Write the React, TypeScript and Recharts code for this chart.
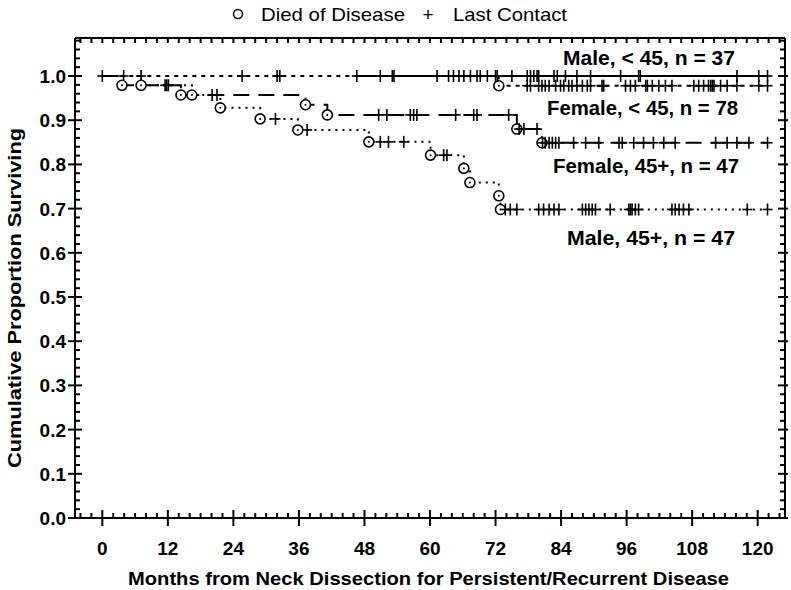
import React from 'react';
import { LineChart, Line, XAxis, YAxis } from 'recharts';

// ---------- data ----------
// each row: [month, cumulative proportion surviving, mark] ; mark: 'd' died, 'c' last contact, 'n' none
type Row = [number, number, string];

const maleUnder45: Row[] = [
  [46.6, 1, 'c'], [50.9, 1, 'c'], [53.1, 1, 'c'], [53.4, 1, 'c'], [61.3, 1, 'c'], [63.4, 1, 'c'],
  [64.3, 1, 'c'], [65.3, 1, 'c'], [66.2, 1, 'c'], [67.4, 1, 'c'], [68.6, 1, 'c'], [69.2, 1, 'c'],
  [70.5, 1, 'c'], [72.0, 1, 'c'], [72.3, 1, 'c'], [75.0, 1, 'c'], [77.8, 1, 'c'], [78.4, 1, 'c'],
  [79.0, 1, 'c'], [79.6, 1, 'c'], [79.9, 1, 'c'], [82.7, 1, 'c'], [83.3, 1, 'c'], [84.8, 1, 'c'],
  [86.9, 1, 'c'], [89.4, 1, 'c'], [94.9, 1, 'c'], [98.2, 1, 'c'], [98.5, 1, 'c'], [116.2, 1, 'c'],
  [120.2, 1, 'c'], [121.8, 1, 'c'],
];

const femaleUnder45: Row[] = [
  [0, 1, 'c'], [3.9, 1, 'c'], [7.1, 1, 'c'], [25.6, 1, 'c'], [32.0, 1, 'c'], [32.5, 1, 'c'],
  [72.6, 0.978, 'd'], [77.8, 0.978, 'c'], [78.4, 0.978, 'c'], [79.9, 0.978, 'c'], [80.5, 0.978, 'c'],
  [81.1, 0.978, 'c'], [81.8, 0.978, 'c'], [83.0, 0.978, 'c'], [83.9, 0.978, 'c'], [84.5, 0.978, 'c'],
  [85.4, 0.978, 'c'], [86.0, 0.978, 'c'], [86.9, 0.978, 'c'], [87.9, 0.978, 'c'], [88.8, 0.978, 'c'],
  [89.4, 0.978, 'c'], [91.5, 0.978, 'c'], [91.8, 0.978, 'c'], [95.8, 0.978, 'c'], [96.7, 0.978, 'c'],
  [97.6, 0.978, 'c'], [99.5, 0.978, 'c'], [99.8, 0.978, 'c'], [100.7, 0.978, 'c'], [101.9, 0.978, 'c'],
  [103.1, 0.978, 'c'], [104.3, 0.978, 'c'], [108.3, 0.978, 'c'], [109.2, 0.978, 'c'], [110.1, 0.978, 'c'],
  [111.0, 0.978, 'c'], [111.4, 0.978, 'c'], [111.7, 0.978, 'c'], [112.0, 0.978, 'c'], [113.2, 0.978, 'c'],
  [114.4, 0.978, 'c'], [116.2, 0.978, 'c'], [120.2, 0.978, 'c'], [121.8, 0.978, 'c'],
];

const female45Plus: Row[] = [
  [0, 1, 'n'], [3.6, 0.979, 'd'], [11.8, 0.979, 'c'], [14.4, 0.957, 'd'], [20.1, 0.957, 'c'],
  [37.2, 0.935, 'd'], [41.2, 0.912, 'd'], [50.6, 0.912, 'c'], [52.1, 0.912, 'c'], [56.4, 0.912, 'c'],
  [57.0, 0.912, 'c'], [57.6, 0.912, 'c'], [64.7, 0.912, 'c'], [68.0, 0.912, 'c'], [68.6, 0.912, 'c'],
  [74.4, 0.912, 'c'], [75.9, 0.88, 'd'], [76.3, 0.88, 'c'], [77.2, 0.88, 'c'], [79.6, 0.88, 'c'],
  [80.5, 0.849, 'd'], [80.6, 0.849, 'c'], [81.1, 0.849, 'c'], [81.8, 0.849, 'c'], [82.4, 0.849, 'c'],
  [83.0, 0.849, 'c'], [83.6, 0.849, 'c'], [86.3, 0.849, 'c'], [88.5, 0.849, 'c'], [90.9, 0.849, 'c'],
  [94.6, 0.849, 'c'], [95.2, 0.849, 'c'], [97.3, 0.849, 'c'], [99.1, 0.849, 'c'], [100.9, 0.849, 'c'],
  [102.8, 0.849, 'c'], [104.9, 0.849, 'c'], [112.3, 0.849, 'c'], [114.4, 0.849, 'c'], [116.2, 0.849, 'c'],
  [118.4, 0.849, 'c'], [121.8, 0.849, 'c'],
];

const male45Plus: Row[] = [
  [0, 1, 'n'], [7.1, 0.979, 'd'], [11.5, 0.979, 'c'], [12.1, 0.979, 'c'], [16.4, 0.957, 'd'],
  [21.0, 0.957, 'c'], [21.6, 0.928, 'd'], [28.9, 0.903, 'd'], [31.7, 0.903, 'c'], [35.8, 0.878, 'd'],
  [37.5, 0.878, 'c'], [48.8, 0.851, 'd'], [50.9, 0.851, 'c'], [52.4, 0.851, 'c'], [55.2, 0.851, 'c'],
  [60.1, 0.821, 'd'], [62.5, 0.821, 'c'], [63.1, 0.821, 'c'], [66.2, 0.791, 'd'], [67.3, 0.759, 'd'],
  [72.6, 0.729, 'd'], [72.9, 0.698, 'd'], [73.8, 0.698, 'c'], [74.7, 0.698, 'c'], [75.9, 0.698, 'c'],
  [79.9, 0.698, 'c'], [80.8, 0.698, 'c'], [81.8, 0.698, 'c'], [82.7, 0.698, 'c'], [83.6, 0.698, 'c'],
  [87.9, 0.698, 'c'], [88.5, 0.698, 'c'], [89.1, 0.698, 'c'], [89.7, 0.698, 'c'], [90.3, 0.698, 'c'],
  [93.0, 0.698, 'c'], [96.4, 0.698, 'c'], [96.7, 0.698, 'c'], [97.0, 0.698, 'c'], [97.6, 0.698, 'c'],
  [98.2, 0.698, 'c'], [104.3, 0.698, 'c'], [104.9, 0.698, 'c'], [105.6, 0.698, 'c'], [106.4, 0.698, 'c'],
  [107.4, 0.698, 'c'], [118.1, 0.698, 'c'], [121.8, 0.698, 'c'],
];

const xMajorTicks = [0, 12, 24, 36, 48, 60, 72, 84, 96, 108, 120];
const yMajorTicks = [0, 0.1, 0.2, 0.3, 0.4, 0.5, 0.6, 0.7, 0.8, 0.9, 1.0];
const xDomain: [number, number] = [-5, 125];
const yDomain: [number, number] = [0, 1.086];

const curveLabels = ['Male, < 45, n = 37', 'Female, < 45, n = 78', 'Female, 45+, n = 47', 'Male, 45+, n = 47'];
const legendLabels = ['Died of Disease', 'Last Contact'];
const xTitle = 'Months from Neck Dissection for Persistent/Recurrent Disease';
const yTitle = 'Cumulative Proportion Surviving';

// ---------- helpers ----------
const toPoints = (rows: Row[]) => rows.map(([t, s, k]) => ({ t, s, k }));

const xMinor: number[] = [];
for (let v = -4; v <= 124; v += 2) xMinor.push(v);
const yMinor: number[] = [];
for (let i = 0; i <= 54; i++) yMinor.push(Math.round(i * 2) / 100);

const FONT = '"Liberation Sans", Arial, Helvetica, sans-serif';
const isMajorX = (v: number) => xMajorTicks.includes(v);
const isMajorY = (v: number) => yMajorTicks.some((m) => Math.abs(m - v) < 1e-6);

const LeftTick = (p: any) => {
  const { x, y, payload } = p;
  const v = payload.value;
  if (isMajorY(v)) {
    return (
      <g>
        <line x1={x - 7} x2={x + 7} y1={y} y2={y} stroke="#000" strokeWidth={2} />
        <text x={x - 9} y={y + 7} textAnchor="end" fontFamily={FONT} fontWeight="bold" fontSize={19} fill="#000">
          {v.toFixed(1)}
        </text>
      </g>
    );
  }
  return <line x1={x} x2={x + 5} y1={y} y2={y} stroke="#000" strokeWidth={2} />;
};

const RightTick = (p: any) => {
  const { x, y, payload } = p;
  const v = payload.value;
  const major = isMajorY(v);
  return <line x1={x - (major ? 7 : 5)} x2={x + (major ? 3 : 0)} y1={y} y2={y} stroke="#000" strokeWidth={2} />;
};

const BottomTick = (p: any) => {
  const { x, y, payload } = p;
  const v = payload.value;
  if (isMajorX(v)) {
    return (
      <g>
        <line x1={x} x2={x} y1={y - 8} y2={y + 8} stroke="#000" strokeWidth={2} />
        <text x={x} y={y + 37} textAnchor="middle" fontFamily={FONT} fontWeight="bold" fontSize={19} fill="#000">
          {String(v)}
        </text>
      </g>
    );
  }
  return <line x1={x} x2={x} y1={y - 5} y2={y} stroke="#000" strokeWidth={2} />;
};

const TopTick = (p: any) => {
  const { x, y } = p;
  return <line x1={x} x2={x} y1={y} y2={y + 5} stroke="#000" strokeWidth={2} />;
};

const Mark = (p: any) => {
  const { cx, cy, payload } = p;
  if (cx == null || cy == null) return <g />;
  if (payload.k === 'd') {
    return (
      <g>
        <circle cx={cx} cy={cy} r={5} fill="#fff" stroke="#000" strokeWidth={1.6} />
        <circle cx={cx} cy={cy} r={1} fill="#000" />
      </g>
    );
  }
  if (payload.k === 'c') {
    return (
      <g>
        <line x1={cx} x2={cx} y1={cy - 6} y2={cy + 6} stroke="#000" strokeWidth={1.6} />
        <line x1={cx - 5} x2={cx + 5} y1={cy} y2={cy} stroke="#000" strokeWidth={1.6} />
      </g>
    );
  }
  return <g />;
};

export default function App() {
  return (
    <div style={{ position: 'absolute', left: 0, top: 0, width: 791, height: 590, background: '#fff' }}>
      <LineChart width={791} height={590} margin={{ top: 37, right: 5, bottom: 0, left: 74 }}>
        <XAxis
          xAxisId="b"
          type="number"
          dataKey="t"
          domain={xDomain}
          ticks={xMinor}
          interval={0}
          allowDataOverflow
          height={72}
          tickSize={0}
          tickMargin={0}
          tickLine={false}
          axisLine={{ stroke: '#000', strokeWidth: 2 }}
          tick={BottomTick}
        />
        <XAxis
          xAxisId="t"
          orientation="top"
          type="number"
          dataKey="t"
          domain={xDomain}
          ticks={xMinor}
          interval={0}
          allowDataOverflow
          height={1}
          tickSize={0}
          tickMargin={0}
          tickLine={false}
          axisLine={{ stroke: '#000', strokeWidth: 2 }}
          tick={TopTick}
        />
        <YAxis
          yAxisId="l"
          type="number"
          domain={yDomain}
          ticks={yMinor}
          interval={0}
          allowDataOverflow
          width={1}
          tickSize={0}
          tickMargin={0}
          tickLine={false}
          axisLine={{ stroke: '#000', strokeWidth: 2 }}
          tick={LeftTick}
        />
        <YAxis
          yAxisId="r"
          orientation="right"
          type="number"
          domain={yDomain}
          ticks={yMinor}
          interval={0}
          allowDataOverflow
          width={1}
          tickSize={0}
          tickMargin={0}
          tickLine={false}
          axisLine={{ stroke: '#000', strokeWidth: 2 }}
          tick={RightTick}
        />
        <Line
          xAxisId="b" yAxisId="l"
          data={toPoints(femaleUnder45)} dataKey="s" type="stepAfter"
          stroke="#000" strokeWidth={1.8} strokeDasharray="4 5"
          dot={Mark} activeDot={false} isAnimationActive={false}
        />
        <Line
          xAxisId="b" yAxisId="l"
          data={toPoints(maleUnder45)} dataKey="s" type="stepAfter"
          stroke="#000" strokeWidth={1.8}
          dot={Mark} activeDot={false} isAnimationActive={false}
        />
        <Line
          xAxisId="b" yAxisId="l"
          data={toPoints(female45Plus)} dataKey="s" type="stepAfter"
          stroke="#000" strokeWidth={2} strokeDasharray="16 9"
          dot={Mark} activeDot={false} isAnimationActive={false}
        />
        <Line
          xAxisId="b" yAxisId="l"
          data={toPoints(male45Plus)} dataKey="s" type="stepAfter"
          stroke="#000" strokeWidth={2} strokeDasharray="2 5"
          dot={Mark} activeDot={false} isAnimationActive={false}
        />
      </LineChart>
      <svg width={791} height={590} style={{ position: 'absolute', left: 0, top: 0, pointerEvents: 'none' }}>
        <g fontFamily={FONT} fill="#000">
          <circle cx={238} cy={14} r={4.5} fill="none" stroke="#000" strokeWidth={1.5} />
          <text x={261} y={21} fontSize={19} textLength={144} lengthAdjust="spacingAndGlyphs">{legendLabels[0]}</text>
          <text x={428} y={21} fontSize={19} textAnchor="middle">+</text>
          <text x={453} y={21} fontSize={19} textLength={114} lengthAdjust="spacingAndGlyphs">{legendLabels[1]}</text>

          <text x={563} y={65} fontSize={20} fontWeight="bold" textLength={172} lengthAdjust="spacingAndGlyphs">{curveLabels[0]}</text>
          <text x={547} y={115} fontSize={20} fontWeight="bold" textLength={191} lengthAdjust="spacingAndGlyphs">{curveLabels[1]}</text>
          <text x={553} y={173} fontSize={20} fontWeight="bold" textLength={186} lengthAdjust="spacingAndGlyphs">{curveLabels[2]}</text>
          <text x={567} y={245} fontSize={20} fontWeight="bold" textLength={168} lengthAdjust="spacingAndGlyphs">{curveLabels[3]}</text>

          <text x={128} y={585} fontSize={19} fontWeight="bold" textLength={601} lengthAdjust="spacingAndGlyphs">{xTitle}</text>
          <g transform="translate(21,298) rotate(-90)">
            <text x={0} y={0} fontSize={19} fontWeight="bold" textAnchor="middle" textLength={340} lengthAdjust="spacingAndGlyphs">{yTitle}</text>
          </g>
        </g>
      </svg>
    </div>
  );
}
